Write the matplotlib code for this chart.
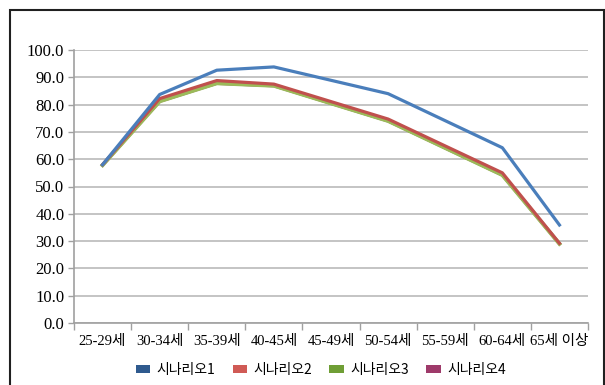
import matplotlib
matplotlib.use("Agg")
import matplotlib.pyplot as plt
import numpy as np
from matplotlib.patches import Rectangle

# age groups and scenario values (None = not reported for that group)
ages = ["25-29세", "30-34세", "35-39세", "40-45세", "45-49세",
        "50-54세", "55-59세", "60-64세", "65세 이상"]
scen1 = [58.0, 83.7, 92.6, 93.8, None, 84.0, None, 64.2, 35.9]
scen2 = [58.0, 82.2, 88.8, 87.5, None, 74.7, None, 55.0, 29.2]
scen3 = [57.8, 81.2, 87.8, 86.9, None, 74.0, None, 54.2, 29.0]
scen4 = [57.8, 81.2, 87.8, 86.9, None, 74.0, None, 54.2, 29.0]
names = ["시나리오1", "시나리오2", "시나리오3", "시나리오4"]
colors = ["#4a7ebb", "#c0504d", "#9bbb59", "#8a3a6e"]
legend_colors = ["#2f5a8e", "#d05a55", "#6f9e35", "#9e3a6a"]

plt.rcParams['font.family'] = ['Liberation Serif', 'Noto Sans CJK KR']

fig = plt.figure(figsize=(6.05, 3.85), dpi=100)
ax = fig.add_axes([74/605, 1 - 323/385, (588-74)/605, (323-50)/385])

series = [scen1, scen2, scen3, scen4]
widths = [2.3, 2.3, 2.8, 2.3]
zorders = [5, 4, 3, 2]
for vals, c, w, z in zip(series, colors, widths, zorders):
    xs = [i + 0.5 for i, v in enumerate(vals) if v is not None]
    ys = [v for v in vals if v is not None]
    ax.plot(xs, ys, color=c, lw=w, zorder=z)

ax.set_xlim(0, len(ages))
ax.set_ylim(0, 100)
ax.set_yticks(np.arange(0, 101, 10))
ax.set_yticklabels([f"{v:.1f}" for v in np.arange(0, 101, 10)], fontsize=12)
ax.set_xticks(np.arange(0, len(ages) + 1))
ax.set_xticklabels([])
ax.set_xticks(np.arange(len(ages)) + 0.5, minor=True)
ax.set_xticklabels(ages, minor=True, fontsize=10.5)
ax.tick_params(axis='x', which='minor', length=0, pad=9)
ax.tick_params(axis='x', which='major', length=5, color='#a0a0a0', width=1)
ax.tick_params(axis='y', length=4, color='#a0a0a0', width=1, pad=3)
ax.grid(axis='y', color='#c4c4c4', lw=1.4)
ax.set_axisbelow(True)
for s in ['top', 'right']:
    ax.spines[s].set_visible(False)
for s in ['left', 'bottom']:
    ax.spines[s].set_color('#a0a0a0')
    ax.spines[s].set_linewidth(1.2)

fig.legend([Rectangle((0, 0), 1, 1, fc=c, ec='none') for c in legend_colors],
           names, loc='center', bbox_to_anchor=(0.53, 1 - 370/385), ncol=4,
           frameon=False, handlelength=1.05, handleheight=0.55, columnspacing=1.25,
           handletextpad=0.45, prop={'family': ['Noto Sans CJK KR'], 'size': 10})

# outer frame
fig.add_artist(Rectangle((10/605, -0.1), (604-10)/605, 1.1 - 10/385,
                         transform=fig.transFigure, fill=False, ec='#202020', lw=1.5))

fig.savefig("out.png", dpi=100)
